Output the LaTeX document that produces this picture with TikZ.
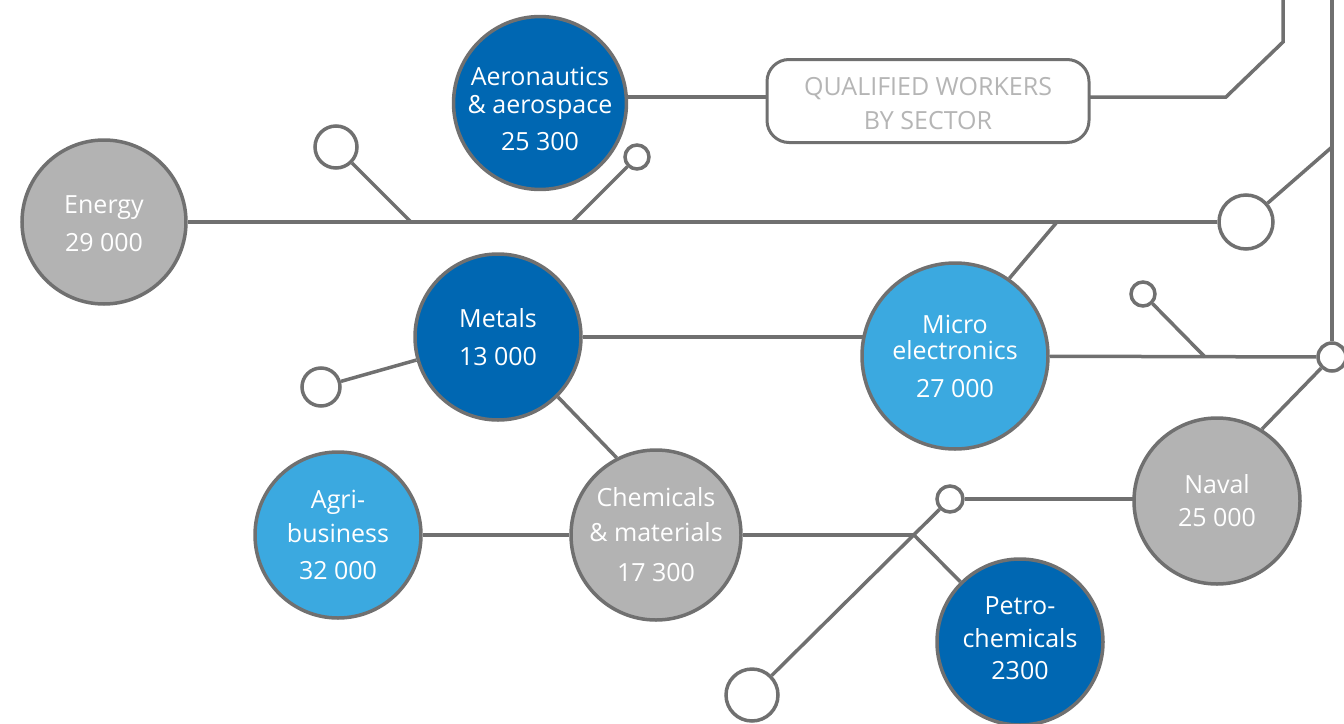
\documentclass[tikz,border=0pt]{standalone}
\usepackage{fontspec}
\setmainfont{Open Sans}
\definecolor{lg}{HTML}{707070}
\definecolor{dblue}{HTML}{0067B2}
\definecolor{lblue}{HTML}{3BA9E0}
\definecolor{gfill}{HTML}{B3B3B3}
\definecolor{boxtext}{HTML}{B5B5B5}
\pgfdeclarelayer{bg}
\pgfsetlayers{bg,main}
\tikzset{
  ln/.style={draw=lg, line width=3.5pt},
  bub/.style={circle, draw=lg, line width=3.5pt, inner sep=0pt, align=center, text=white, font=\fontsize{25}{32}\selectfont},
  dot/.style={circle, draw=lg, line width=3.5pt, fill=white, inner sep=0pt},
}
\begin{document}
\begin{tikzpicture}[x=1pt,y=-1pt]
\useasboundingbox (0,0) rectangle (1344,723);
% bubbles
\node[bub, fill=dblue, minimum size=168] (aero) at (540,103) {\rule{0pt}{30pt}Aeronautics\\[-4pt]\& aerospace\\[5pt]25 300};
\node[bub, fill=gfill, minimum size=164] (energy) at (104,222) {\rule{0pt}{22pt}Energy\\[6pt]29 000};
\node[bub, fill=dblue, minimum size=166] (metals) at (498,337) {Metals\\[6pt]13 000};
\node[bub, fill=lblue, minimum size=186] (micro) at (955,356) {Micro\\[-6pt]electronics\\[6pt]27 000};
\node[bub, fill=gfill, minimum size=166] (naval) at (1217,501) {Naval\\[1pt]25 000};
\node[bub, fill=gfill, minimum size=170] (chem) at (656,535) {Chemicals\\[3pt]\& materials\\[8pt]17 300};
\node[bub, fill=lblue, minimum size=166] (agri) at (338,535) {Agri-\\[2pt]business\\[5pt]32 000};
\node[bub, fill=dblue, minimum size=166] (petro) at (1020,642) {Petro-\\[1pt]chemicals\\[0pt]2300\rule[-8pt]{0pt}{8pt}};
% title box
\node[draw=lg, line width=3pt, fill=white, rounded corners=22, minimum width=322, minimum height=83, align=center, text=boxtext, font=\fontsize{25}{34}\selectfont] (box) at (928,101) {\rule{0pt}{24pt}QUALIFIED WORKERS\\BY SECTOR};
% small dots
\node[dot, minimum size=42] (d1) at (336,147) {};
\node[dot, minimum size=24] (d2) at (637,157) {};
\node[dot, minimum size=54] (d3) at (1246,222) {};
\node[dot, minimum size=24] (d4) at (1143,294) {};
\node[dot, minimum size=28] (d5) at (1332,357) {};
\node[dot, minimum size=38] (d6) at (321,387) {};
\node[dot, minimum size=26] (d7) at (950,499) {};
\node[dot, minimum size=52] (d8) at (752,695) {};
% junctions
\coordinate (j1) at (411,222);
\coordinate (j2) at (572,222);
\coordinate (j3) at (1057,222);
\coordinate (j4) at (1205,357);
\coordinate (j5) at (1332,147);
\coordinate (j6) at (914,535);
\coordinate (top1) at (1283,-5);
\coordinate (bend1) at (1283,42);
\coordinate (bend2) at (1226,97);
\coordinate (top2) at (1332,-5);
\begin{pgfonlayer}{bg}
\draw[ln] (aero |- bend2) -- (box |- bend2);
\draw[ln] (box |- bend2) -- (bend2) -- (bend1) -- (top1);
\draw[ln] (top2) -- (d5);
\draw[ln] (j5) -- (d3);
\draw[ln] (energy) -- (d3);
\draw[ln] (j1) -- (d1);
\draw[ln] (j2) -- (d2);
\draw[ln] (j3) -- (micro.55);
\draw[ln] (metals) -- (metals -| micro);
\draw[ln] (micro) -- (d5);
\draw[ln] (j4) -- (d4);
\draw[ln] (d5) -- (naval.58);
\draw[ln] (metals) -- (d6);
\draw[ln] (metals.-45) -- (chem.117);
\draw[ln] (agri) -- (chem);
\draw[ln] (chem) -- (j6);
\draw[ln] (j6) -- (petro);
\draw[ln] (d8) -- (d7);
\draw[ln] (d7) -- (d7 -| naval);
\end{pgfonlayer}
\end{tikzpicture}
\end{document}
